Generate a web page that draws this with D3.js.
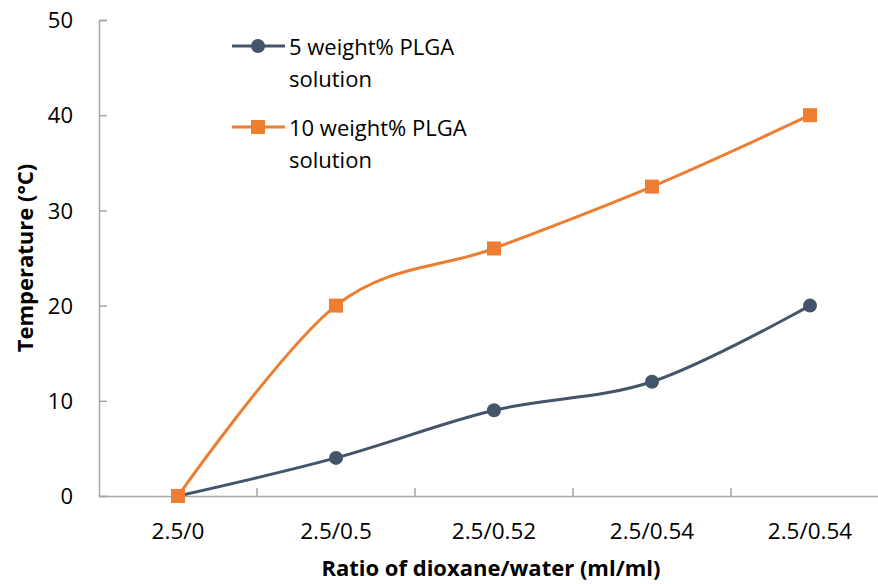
<!DOCTYPE html>
<html>
<head>
<meta charset="utf-8">
<script src="https://cdn.jsdelivr.net/npm/d3@7"></script>
<style>
  body { margin: 0; background: #fff; }
  svg text { font-family: "Open Sans", "Noto Sans", sans-serif; fill: #000; }
</style>
</head>
<body>
<div id="chart"></div>
<script>
// categorias e valores
var categories = ['2.5/0', '2.5/0.5', '2.5/0.52', '2.5/0.54', '2.5/0.54 '];
var plga5 = [0, 4, 9, 12, 20];
var plga10 = [0, 20, 26, 32.5, 40];
var yTicks = [0, 10, 20, 30, 40, 50];
var seriesNames = [['5 weight% PLGA', 'solution'], ['10 weight% PLGA', 'solution']];

var width = 878, height = 584;
var margin = {left: 99, top: 20, right: -11, bottom: 88};

var svg = d3.select('#chart')
.append('svg')
.attr('width', width)
.attr('height', height);

var x = d3.scaleBand()
.domain(categories)
.range([margin.left, width - margin.right]);

var y = d3.scaleLinear()
.domain([0, 50])
.range([height - margin.bottom, margin.top]);

var axisColor = '#a6a6a6';

// eixo y
var yAxis = svg.append('g')
.attr('transform', 'translate(' + margin.left + ',0)')
.call(d3.axisRight(y).tickValues(yTicks).tickSize(8).tickFormat(d3.format('d')));
yAxis.select('.domain').attr('stroke', axisColor).attr('stroke-width', 1.5);
yAxis.selectAll('.tick line').attr('stroke', axisColor).attr('stroke-width', 1.5);
yAxis.selectAll('.tick text')
.attr('x', -26)
.attr('text-anchor', 'end')
.attr('dy', '0.35em')
.style('font-size', '22px');

// eixo x
var xAxis = svg.append('g')
.attr('transform', 'translate(0,' + y(0) + ')')
.call(d3.axisTop(x).tickSize(0).tickFormat(''));
xAxis.select('.domain').attr('stroke', axisColor).attr('stroke-width', 1.5);
xAxis.selectAll('.tick').remove();

var bounds = categories.map(function(c){ return x(c) + x.bandwidth(); });
xAxis.selectAll('line.sep')
.data(bounds)
.enter()
.append('line')
.attr('class', 'sep')
.attr('x1', function(d){ return d; })
.attr('x2', function(d){ return d; })
.attr('y1', 0)
.attr('y2', -8)
.attr('stroke', axisColor)
.attr('stroke-width', 1.5);

svg.selectAll('text.xlabel')
.data(categories)
.enter()
.append('text')
.attr('class', 'xlabel')
.attr('x', function(d){ return x(d) + x.bandwidth() / 2; })
.attr('y', y(0) + 43)
.attr('text-anchor', 'middle')
.style('font-size', '22.5px')
.text(function(d){ return d.trim(); });

// titulos
svg.append('text')
.attr('transform', 'translate(33,' + ((y(0) + y(50)) / 2) + ') rotate(-90)')
.attr('text-anchor', 'middle')
.style('font-size', '22px')
.style('font-weight', 'bold')
.text('Temperature (°C)');

svg.append('text')
.attr('x', 491)
.attr('y', 576)
.attr('text-anchor', 'middle')
.style('font-size', '22px')
.style('font-weight', 'bold')
.text('Ratio of dioxane/water (ml/ml)');

// linhas
var line = d3.line()
.x(function(d, i){ return x(categories[i]) + x.bandwidth() / 2; })
.y(function(d){ return y(d); })
.curve(d3.curveCardinal.tension(0));

var blue = '#44546a', orange = '#ed7d31';

svg.append('path')
.datum(plga5)
.attr('fill', 'none')
.attr('stroke', blue)
.attr('stroke-width', 3)
.attr('d', line);

svg.append('path')
.datum(plga10)
.attr('fill', 'none')
.attr('stroke', orange)
.attr('stroke-width', 3)
.attr('d', line);

svg.selectAll('circle.m5')
.data(plga5)
.enter()
.append('circle')
.attr('class', 'm5')
.attr('cx', function(d, i){ return x(categories[i]) + x.bandwidth() / 2; })
.attr('cy', function(d){ return y(d); })
.attr('r', 7)
.attr('fill', blue);

svg.selectAll('rect.m10')
.data(plga10)
.enter()
.append('rect')
.attr('class', 'm10')
.attr('x', function(d, i){ return x(categories[i]) + x.bandwidth() / 2 - 7; })
.attr('y', function(d){ return y(d) - 7; })
.attr('width', 14)
.attr('height', 14)
.attr('fill', orange);

// legenda
var legend = svg.append('g');
var legY = [46, 127];

legend.selectAll('line.leg')
.data(legY)
.enter()
.append('line')
.attr('x1', 232)
.attr('x2', 285)
.attr('y1', function(d){ return d; })
.attr('y2', function(d){ return d; })
.attr('stroke', function(d, i){ return i == 0 ? blue : orange; })
.attr('stroke-width', 3);

legend.append('circle')
.attr('cx', 258)
.attr('cy', legY[0])
.attr('r', 7)
.attr('fill', blue);

legend.append('rect')
.attr('x', 251)
.attr('y', legY[1] - 7)
.attr('width', 14)
.attr('height', 14)
.attr('fill', orange);

legend.selectAll('text.leg')
.data(seriesNames)
.enter()
.append('text')
.attr('class', 'leg')
.attr('x', 289)
.attr('y', function(d, i){ return legY[i] + 9; })
.style('font-size', '22px')
.each(function(d){
    var t = d3.select(this);
    d.forEach(function(s, k){
        t.append('tspan')
        .attr('x', 289)
        .attr('dy', k == 0 ? 0 : 32)
        .text(s);
    });
});
</script>
</body>
</html>
